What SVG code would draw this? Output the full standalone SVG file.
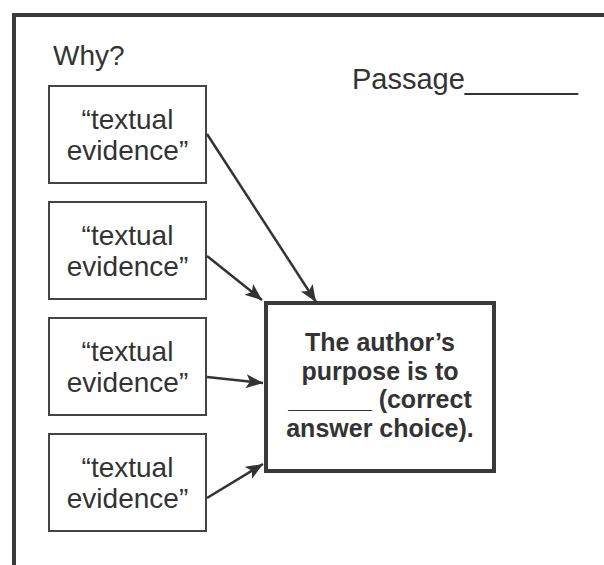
<svg xmlns="http://www.w3.org/2000/svg" width="604" height="565" viewBox="0 0 604 565">
  <style>
    .lbl { font-family: "Liberation Sans", Arial, Helvetica, sans-serif; font-size: 28px; fill: #333; }
    .mid { text-anchor: middle; }
    .bold { font-weight: bold; font-size: 25px; }
    .box { fill: #fff; stroke: #444; stroke-width: 2; }
    .main { fill: #fff; stroke: #3a3a3a; stroke-width: 4; }
    .frame { fill: none; stroke: #3a3a3a; stroke-width: 4; }
    .conn { stroke: #333; stroke-width: 2.5; fill: none; marker-end: url(#head); }
  </style>
  <defs>
    <marker id="head" markerUnits="userSpaceOnUse" markerWidth="19" markerHeight="15" refX="17" refY="7" orient="auto">
      <path d="M0,0 L17,7 L0,14 L4,7 z" fill="#333"/>
    </marker>
  </defs>

  <rect width="604" height="565" fill="#fff"/>
  <path class="frame" d="M14,565 V15 H604"/>

  <text class="lbl" x="53" y="65">Why?</text>
  <text class="lbl" x="352" y="89" style="font-size:29px">Passage_______</text>

  <g id="evidence1">
    <rect class="box" x="49" y="86" width="157" height="97"/>
    <text class="lbl mid" x="127.5" y="129">“textual</text>
    <text class="lbl mid" x="127.5" y="160">evidence”</text>
  </g>
  <g id="evidence2">
    <rect class="box" x="49" y="202" width="157" height="97"/>
    <text class="lbl mid" x="127.5" y="245">“textual</text>
    <text class="lbl mid" x="127.5" y="276">evidence”</text>
  </g>
  <g id="evidence3">
    <rect class="box" x="49" y="318" width="157" height="97"/>
    <text class="lbl mid" x="127.5" y="361">“textual</text>
    <text class="lbl mid" x="127.5" y="392">evidence”</text>
  </g>
  <g id="evidence4">
    <rect class="box" x="49" y="434" width="157" height="97"/>
    <text class="lbl mid" x="127.5" y="477">“textual</text>
    <text class="lbl mid" x="127.5" y="508">evidence”</text>
  </g>

  <g id="purpose">
    <rect class="main" x="266" y="303" width="228" height="168"/>
    <text class="lbl mid bold" x="380" y="351">The author’s</text>
    <text class="lbl mid bold" x="380" y="379.5">purpose is to</text>
    <text class="lbl mid bold" x="380" y="408">______ (correct</text>
    <text class="lbl mid bold" x="380" y="436.5">answer choice).</text>
  </g>

  <g id="connectors">
    <line class="conn" x1="207" y1="134" x2="316" y2="302"/>
    <line class="conn" x1="207" y1="256" x2="262" y2="300"/>
    <line class="conn" x1="207" y1="377" x2="263" y2="383"/>
    <line class="conn" x1="207" y1="498" x2="263" y2="464"/>
  </g>
</svg>
